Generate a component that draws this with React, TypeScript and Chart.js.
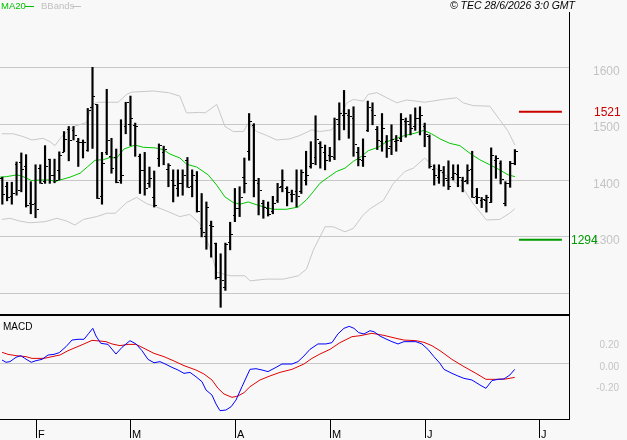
import React, { useEffect, useRef } from "react";
import { Chart, registerables } from "chart.js";
Chart.register(...registerables);

// ---- data ----
const monthLabels = ["F", "M", "A", "M", "J", "J"];
const monthTickIdx = [7, 27, 49, 69, 89, 113];
const priceGrid = [1200, 1300, 1400, 1500, 1600];
const priceTickLabels = ["1300", "1400", "1500", "1600"];
const priceTickValues = [1300, 1400, 1500, 1600];
const macdTickValues = [0.2, 0, -0.2];
const macdTickLabels = ["0.20", "0.00", "-0.20"];

const opens = [1403,1390,1372,1428,1432,1425,1360,1360,1422,1398,
  1437,1409,1418,1450,1490,1488,1470,1468,1454,1530,
  1534,1372,1450,1442,1440,1400,1495,1500,1498,1443,
  1418,1395,1370,1439,1450,1420,1400,1385,1395,1436,
  1390,1400,1314,1300,1320,1288,1228,1210,1290,1337,
  1350,1406,1451,1497,1395,1360,1350,1345,1365,1390,
  1385,1375,1380,1380,1400,1425,1440,1465,1450,1445,
  1440,1500,1515,1515,1510,1450,1435,1488,1525,1490,
  1470,1470,1460,1470,1475,1505,1500,1495,1510,1495,
  1478,1420,1405,1415,1400,1405,1410,1400,1400,1420,
  1372,1365,1365,1361,1435,1430,1360,1395,1430];
const highs = [1405,1396,1396,1432,1448,1445,1397,1427,1427,1461,
  1437,1437,1450,1486,1495,1495,1474,1471,1527,1600,
  1534,1449,1561,1474,1455,1507,1538,1549,1501,1446,
  1449,1423,1416,1464,1460,1429,1418,1418,1418,1440,
  1418,1415,1376,1361,1327,1288,1269,1288,1325,1385,
  1388,1439,1518,1500,1403,1364,1361,1371,1394,1418,
  1388,1382,1418,1418,1451,1468,1514,1468,1462,1458,
  1510,1537,1559,1525,1530,1458,1473,1540,1537,1495,
  1518,1479,1498,1479,1518,1510,1516,1528,1530,1501,
  1480,1427,1427,1424,1434,1427,1427,1405,1427,1451,
  1385,1369,1373,1457,1443,1434,1397,1433,1454];
const lows = [1357,1363,1357,1373,1379,1352,1340,1333,1394,1394,
  1394,1395,1400,1450,1434,1471,1424,1439,1451,1456,
  1367,1357,1445,1412,1395,1394,1482,1461,1442,1376,
  1373,1387,1352,1424,1427,1388,1361,1371,1373,1387,
  1370,1343,1299,1277,1263,1224,1174,1204,1276,1326,
  1335,1377,1435,1370,1338,1332,1336,1340,1360,1379,
  1354,1361,1352,1376,1391,1421,1427,1421,1418,1433,
  1436,1471,1489,1474,1442,1425,1424,1486,1498,1454,
  1451,1440,1445,1451,1468,1476,1480,1488,1480,1459,
  1421,1391,1394,1389,1383,1400,1388,1379,1393,1369,
  1358,1351,1343,1360,1403,1393,1354,1387,1427];
const closes = [1375,1370,1377,1383,1420,1355,1357,1349,1394,1425,
  1409,1400,1445,1473,1471,1480,1468,1467,1525,1549,
  1368,1431,1471,1421,1397,1409,1538,1510,1495,1418,
  1385,1403,1355,1462,1455,1427,1391,1394,1409,1388,
  1409,1345,1308,1352,1318,1228,1223,1287,1304,1351,
  1370,1395,1504,1400,1382,1352,1340,1360,1388,1400,
  1379,1376,1371,1415,1409,1430,1473,1458,1436,1442,
  1508,1519,1519,1513,1464,1437,1443,1530,1516,1471,
  1492,1457,1473,1471,1508,1504,1492,1510,1516,1482,
  1425,1409,1418,1403,1389,1412,1405,1399,1418,1370,
  1370,1367,1370,1445,1439,1401,1394,1430,1451];

const maIdx = [-0.48,0.92,3.0,4.08,6.19,7.94,10.05,11.1,12.15,14.26,16.37,17.9,19.53,21.28,22.69,24.1,25.64,27.95,29.7,32.17,33.92,35.33,37.43,38.84,40.95,43.39,45.16,46.9,48.66,50.07,51.82,53.93,55.69,57.09,59.9,62.35,64.1,65.5,66.9,68.7,70.4,72.2,73.95,75.7,77.1,79.2,81.0,83.1,84.8,86.9,88.8,90.45,92.2,94.3,96.4,98.9,100.6,102.7,104.8,106.6,108.0];
const maVal = [1405,1406,1409,1407,1399,1400,1400,1397,1400,1405,1412,1423,1435,1436,1440,1439,1455,1462,1458,1457,1454,1446,1439,1428,1423,1409,1391,1370,1360,1357,1361,1355,1351,1348,1348,1352,1365,1379,1394,1405,1415,1421,1433,1442,1452,1458,1468,1474,1479,1483,1488,1482,1473,1465,1461,1445,1436,1427,1418,1409,1406];

const upIdx = [-0.13,2.3,4.4,6.2,8.6,10.05,11.1,12.5,15.0,17.8,18.8,20.2,24.4,26.2,27.3,31.8,35.0,37.4,38.8,41.6,42.7,45.2,46.9,48.7,50.8,51.8,53.6,55.7,57.8,60.6,62.7,65.2,66.9,69.4,70.4,72.6,73.95,76.05,77.1,78.9,81.0,83.1,85.2,89.0,92.9,95.7,97.1,99.2,102.7,104.8,106.6,108.0];
const upVal = [1482,1482,1477,1471,1474,1468,1461,1477,1495,1502,1534,1538,1538,1552,1556,1558,1555,1549,1519,1520,1519,1534,1495,1486,1486,1501,1486,1479,1471,1473,1479,1489,1486,1489,1501,1537,1543,1540,1552,1555,1546,1537,1542,1538,1543,1546,1537,1532,1531,1507,1486,1462];

const loIdx = [-0.13,1.6,3.7,5.8,9.0,11.5,13.6,15.3,17.1,19.9,22.0,23.8,26.2,28.3,30.4,32.5,34.6,37.4,39.5,41.6,43.4,45.2,48.0,51.1,52.2,55.7,59.2,62.4,64.1,65.5,68.0,69.7,72.2,73.95,76.05,77.5,80.3,82.4,84.8,86.6,89.0,90.8,94.3,97.1,99.2,102.0,104.8,106.9,108.0];
const loVal = [1330,1332,1327,1324,1326,1332,1327,1320,1330,1335,1341,1341,1360,1369,1358,1352,1345,1335,1339,1323,1287,1236,1230,1230,1221,1224,1224,1230,1242,1275,1317,1317,1308,1314,1338,1349,1364,1394,1415,1421,1439,1424,1403,1385,1358,1329,1330,1341,1349];

const macdIdx = [-0.06,0.78,1.62,2.89,3.9,4.74,6.09,7.1,8.36,9.63,10.89,11.99,13.42,14.68,15.95,17.21,18.22,19.06,19.74,20.75,22.27,23.95,25.22,26.9,28.16,29.43,30.69,31.96,33.22,34.48,35.75,37.01,38.28,39.54,40.8,42.07,42.91,44.17,45.02,45.86,47.12,48.22,49.23,50.5,52.18,53.45,54.71,55.97,57.66,58.92,61.03,62.29,63.55,64.82,66.5,68.19,69.45,70.71,71.98,73.08,74.09,75.1,76.2,77.46,78.3,79.57,80.83,82.09,83.36,84.62,87.15,88.41,89.68,90.94,92.21,93.05,94.73,95.99,97.26,98.94,100.63,101.9,103.16,104.42,105.69,106.95,107.96];
const macdVal = [0.023,0.002,0.008,0.048,0.063,0.038,0.002,0.017,0.029,0.069,0.075,0.091,0.146,0.207,0.214,0.214,0.269,0.315,0.244,0.177,0.167,0.078,0.140,0.201,0.171,0.109,0.029,-0.002,0.008,-0.017,-0.045,-0.069,-0.100,-0.091,-0.131,-0.177,-0.253,-0.300,-0.382,-0.444,-0.438,-0.407,-0.346,-0.223,-0.063,-0.057,-0.069,-0.084,-0.045,-0.014,-0.014,0.008,0.060,0.121,0.171,0.171,0.183,0.263,0.315,0.333,0.315,0.275,0.263,0.293,0.284,0.244,0.217,0.192,0.171,0.192,0.192,0.171,0.121,0.054,-0.008,-0.063,-0.100,-0.124,-0.146,-0.161,-0.207,-0.238,-0.167,-0.155,-0.152,-0.115,-0.063];

const sigIdx = [-0.06,1.2,2.89,4.99,6.26,8.78,10.47,12.15,13.84,15.53,17.21,18.9,20.58,21.84,23.11,24.8,26.48,28.16,29.85,31.96,34.06,36.17,38.28,40.8,42.49,44.17,45.44,46.7,48.39,49.65,50.92,52.18,54.29,56.39,58.5,61.03,63.55,65.24,66.92,69.03,71.14,73.67,75.35,77.88,80.41,82.94,84.62,87.15,88.83,90.52,92.21,94.73,97.26,99.79,101.9,104.0,106.1,107.96];
const sigVal = [0.094,0.075,0.063,0.054,0.038,0.038,0.054,0.069,0.109,0.140,0.171,0.204,0.198,0.192,0.171,0.155,0.167,0.167,0.131,0.084,0.054,0.014,-0.029,-0.069,-0.106,-0.161,-0.238,-0.290,-0.321,-0.309,-0.278,-0.223,-0.161,-0.124,-0.091,-0.063,-0.014,0.038,0.078,0.121,0.183,0.238,0.247,0.269,0.250,0.223,0.207,0.201,0.186,0.155,0.109,0.029,-0.038,-0.100,-0.155,-0.155,-0.152,-0.137];

const resistance = 1521;
const support = 1294;
const levelSpan = [108.85, 117.9];

// ---- style ----
const BG = "#f8f8f8";
const GRID = "#c8c8c8";
const LABEL = "#c4c4c4";
const X_MIN = -0.49;
const X_MAX = 119.4;

const pts = (xs: number[], ys: number[]) => xs.map((x, i) => ({ x, y: ys[i] }));

export default function App() {
  const priceRef = useRef<HTMLCanvasElement>(null);
  const macdRef = useRef<HTMLCanvasElement>(null);

  useEffect(() => {
    document.body.style.margin = "0";
    document.body.style.background = BG;

    const pricePlugin = {
      id: "priceDeco",
      beforeDatasetsDraw(chart: any) {
        const { ctx, chartArea, scales } = chart;
        ctx.save();
        ctx.fillStyle = GRID;
        priceGrid.forEach((v) => {
          const py = Math.round(scales.y.getPixelForValue(v));
          ctx.fillRect(chartArea.left, py, chartArea.right - chartArea.left, 1);
        });
        ctx.restore();
      },
      afterDatasetsDraw(chart: any) {
        const { ctx, chartArea, scales } = chart;
        const xs = scales.x, ys = scales.y;
        ctx.save();
        ctx.fillStyle = "#000";
        for (let i = 0; i < opens.length; i++) {
          const px = Math.round(xs.getPixelForValue(i));
          const oy = Math.round(ys.getPixelForValue(opens[i]));
          const cy = Math.round(ys.getPixelForValue(closes[i]));
          ctx.fillRect(px - 2, oy, 2, 1);
          ctx.fillRect(px + 1, cy, 2, 1);
        }
        // right border line
        ctx.fillRect(Math.round(chartArea.right), 12, 1, chart.height - 12);
        // axis labels
        ctx.font = "12px 'Liberation Sans', Arial, sans-serif";
        ctx.textBaseline = "middle";
        ctx.textAlign = "left";
        ctx.fillStyle = LABEL;
        priceTickValues.forEach((v, k) => {
          ctx.fillText(priceTickLabels[k], 593, ys.getPixelForValue(v) + 4.5);
        });
        ctx.fillStyle = "#cc0000";
        ctx.fillText(String(resistance), 594, ys.getPixelForValue(resistance) + 0.5);
        ctx.fillStyle = "#009900";
        ctx.fillText(String(support), 571, ys.getPixelForValue(support) + 1);
        // legend
        ctx.font = "9.5px 'Liberation Sans', Arial, sans-serif";
        ctx.fillStyle = "#00c000";
        ctx.fillText("MA20", 1, 6.5);
        ctx.fillRect(25, 6, 9, 1);
        ctx.fillStyle = "#c0c0c0";
        ctx.fillText("BBands", 41, 6.5);
        ctx.fillRect(72, 6, 9, 1);
        ctx.font = "italic 10.5px 'Liberation Sans', Arial, sans-serif";
        ctx.fillStyle = "#000";
        ctx.textAlign = "right";
        ctx.fillText("\u00a9 TEC 28/6/2026 3:0 GMT", 575, 6.5);
        ctx.restore();
      },
    };

    const priceChart = new Chart(priceRef.current!, {
      type: "bar",
      data: {
        datasets: [
          {
            type: "bar",
            data: lows.map((l, i) => ({ x: i, y: [l, highs[i]] })) as any,
            backgroundColor: "#000",
            borderWidth: 0,
            borderSkipped: false,
            barThickness: 1.5,
            grouped: false,
            order: 0,
          } as any,
          {
            type: "line",
            data: pts(maIdx, maVal) as any,
            borderColor: "#00c800",
            borderWidth: 1,
            pointRadius: 0,
            tension: 0,
            order: 1,
          },
          {
            type: "line",
            data: pts(upIdx, upVal) as any,
            borderColor: "#c8c8c8",
            borderWidth: 1,
            pointRadius: 0,
            tension: 0,
            order: 2,
          },
          {
            type: "line",
            data: pts(loIdx, loVal) as any,
            borderColor: "#c8c8c8",
            borderWidth: 1,
            pointRadius: 0,
            tension: 0,
            order: 2,
          },
          {
            type: "line",
            data: levelSpan.map((x) => ({ x, y: resistance })) as any,
            borderColor: "#cc0000",
            borderWidth: 2,
            pointRadius: 0,
            order: 3,
          },
          {
            type: "line",
            data: levelSpan.map((x) => ({ x, y: support })) as any,
            borderColor: "#009900",
            borderWidth: 2,
            pointRadius: 0,
            order: 3,
          },
        ],
      },
      options: {
        responsive: false,
        animation: false,
        devicePixelRatio: 1,
        layout: { padding: { left: 0, right: 58, top: 0, bottom: 0 } },
        plugins: { legend: { display: false }, tooltip: { enabled: false } },
        scales: {
          x: { type: "linear", min: X_MIN, max: X_MAX, display: false, offset: false },
          y: { type: "linear", min: 1162.1, max: 1719.5, display: false },
        },
      },
      plugins: [pricePlugin],
    });

    const macdPlugin = {
      id: "macdDeco",
      beforeDatasetsDraw(chart: any) {
        const { ctx, chartArea, scales } = chart;
        ctx.save();
        ctx.fillStyle = GRID;
        const zy = Math.round(scales.y.getPixelForValue(0));
        ctx.fillRect(chartArea.left, zy, chartArea.right - chartArea.left, 1);
        ctx.restore();
      },
      afterDatasetsDraw(chart: any) {
        const { ctx, chartArea, scales } = chart;
        const xs = scales.x, ys = scales.y;
        const right = Math.round(chartArea.right);
        ctx.save();
        ctx.fillStyle = "#000";
        ctx.fillRect(0, 0, right, 2);
        ctx.fillRect(0, Math.round(chartArea.bottom), right + 1, 1);
        ctx.fillRect(right, 0, 1, Math.round(chartArea.bottom) + 1);
        ctx.font = "11px 'Liberation Sans', Arial, sans-serif";
        ctx.textBaseline = "alphabetic";
        ctx.textAlign = "left";
        monthTickIdx.forEach((v, k) => {
          const px = Math.round(xs.getPixelForValue(v));
          ctx.fillRect(px, Math.round(chartArea.bottom), 1, 19);
          ctx.fillText(monthLabels[k], px + 2, 124);
        });
        ctx.font = "10px 'Liberation Sans', Arial, sans-serif";
        ctx.textBaseline = "middle";
        ctx.fillText("MACD", 3, 13.5);
        ctx.fillStyle = LABEL;
        ctx.textAlign = "right";
        macdTickValues.forEach((v, k) => {
          ctx.fillText(macdTickLabels[k], 619, ys.getPixelForValue(v) + 4.5);
        });
        ctx.restore();
      },
    };

    const macdChart = new Chart(macdRef.current!, {
      type: "line",
      data: {
        datasets: [
          {
            data: pts(macdIdx, macdVal) as any,
            borderColor: "#0000ff",
            borderWidth: 1,
            pointRadius: 0,
            tension: 0,
            order: 0,
          },
          {
            data: pts(sigIdx, sigVal) as any,
            borderColor: "#e00000",
            borderWidth: 1,
            pointRadius: 0,
            tension: 0,
            order: 1,
          },
        ],
      },
      options: {
        responsive: false,
        animation: false,
        devicePixelRatio: 1,
        layout: { padding: { left: 0, right: 58, top: 2, bottom: 21 } },
        plugins: { legend: { display: false }, tooltip: { enabled: false } },
        scales: {
          x: { type: "linear", min: X_MIN, max: X_MAX, display: false },
          y: { type: "linear", min: -0.5207, max: 0.4286, display: false },
        },
      },
      plugins: [macdPlugin],
    });

    return () => {
      priceChart.destroy();
      macdChart.destroy();
    };
  }, []);

  return (
    <div style={{ position: "absolute", left: 0, top: 0, width: 627, height: 440, background: BG }}>
      <canvas ref={priceRef} width={627} height={314} style={{ position: "absolute", left: 0, top: 0, width: 627, height: 314 }} />
      <canvas ref={macdRef} width={627} height={126} style={{ position: "absolute", left: 0, top: 314, width: 627, height: 126 }} />
    </div>
  );
}
